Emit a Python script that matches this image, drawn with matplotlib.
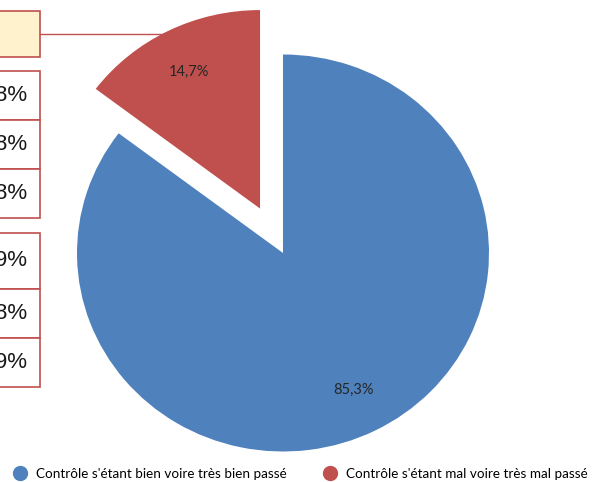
import matplotlib.pyplot as plt
from matplotlib.patches import Rectangle
from matplotlib.lines import Line2D

# data
categories = ["Contrôle s'étant mal voire très mal passé",
              "Contrôle s'étant bien voire très bien passé"]
values = [14.7, 85.3]
labels = ["14,7%", "85,3%"]
colors = ['#C0504D', '#4F81BD']

# cut-off boxes on the left (only the end of the text is visible)
box_texts = ["8%", "8%", "8%", "9%", "8%", "9%"]
box_tops = [71, 120, 169, 233, 289, 338]
box_heights = [49, 49, 49, 56, 49, 49]

W, H = 599, 482
fig = plt.figure(figsize=(W / 100, H / 100), dpi=100)
ax = fig.add_axes([0, 0, 1, 1])

wedges, texts = ax.pie(values, labels=labels, colors=colors, startangle=90,
                       counterclock=True, explode=[0.25, 0],
                       labeldistance=0.77, wedgeprops=dict(linewidth=0),
                       textprops=dict(fontsize=10.5, color='#262626', family='Lato'))
for t in texts:
    t.set_ha('center')
    t.set_va('center')

# pie centre at pixel (283, 253), radius 206 px wide, 198.5 px tall
cx, cy, rx, ry = 283, 253, 206, 198.5
ax.set_aspect('auto')
ax.set_xlim(-cx / rx, (W - cx) / rx)
ax.set_ylim((cy - H) / ry, cy / ry)
ax.axis('off')

def px(x, y):
    return x / W, 1 - y / H

# beige callout box with leader line
x0, y0 = px(-5, 57)
fig.patches.append(Rectangle((x0, y0), 45 / W, 46 / H, transform=fig.transFigure,
                             facecolor='#FFF2CC', edgecolor='#C0504D', lw=1.2))
fig.add_artist(Line2D([40 / W, 168 / W], [1 - 34 / H, 1 - 34 / H],
                      transform=fig.transFigure, color='#C0504D', lw=1))

for txt, top, h in zip(box_texts, box_tops, box_heights):
    x0, y0 = px(-5, top + h)
    fig.patches.append(Rectangle((x0, y0), 45 / W, h / H, transform=fig.transFigure,
                                 facecolor='white', edgecolor='#C0504D', lw=1.2))
    fig.text(27 / W, 1 - (top + h / 2) / H, txt, ha='right', va='center',
             fontsize=16, family='Liberation Sans', color='#1a1a1a')

handles = [Line2D([], [], marker='o', ls='none', markersize=10,
                  markerfacecolor=colors[1], markeredgecolor=colors[1]),
           Line2D([], [], marker='o', ls='none', markersize=10,
                  markerfacecolor=colors[0], markeredgecolor=colors[0])]
fig.legend(handles, [categories[1], categories[0]], loc='center',
           bbox_to_anchor=(0.5, 1 - 474 / H), ncol=2, frameon=False,
           prop=dict(family='Lato', size=9.7), handletextpad=0.6,
           columnspacing=2.6, handlelength=1.2)

fig.savefig('out.png', dpi=100)
